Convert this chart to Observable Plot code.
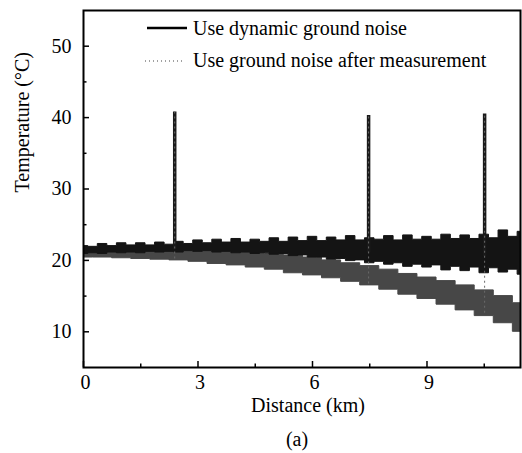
<!DOCTYPE html>
<html><head><meta charset="utf-8">
<script src="https://cdn.jsdelivr.net/npm/d3@7"></script>
<script src="https://cdn.jsdelivr.net/npm/@observablehq/plot@0.6"></script>
<style>
body{margin:0;background:#fff;}
#wrap{width:522px;height:453px;}
</style></head><body><div id="wrap"></div>
<script>
// Dynamic ground noise: envelope of the noisy trace (km, °C)
const blackDist = [0,0.25,0.5,0.75,1,1.25,1.5,1.75,2,2.25,2.5,2.75,3,3.25,3.5,3.75,4,4.25,4.5,4.75,5,5.25,5.5,5.75,6,6.25,6.5,6.75,7,7.25,7.5,7.75,8,8.25,8.5,8.75,9,9.25,9.5,9.75,10,10.25,10.5,10.75,11,11.25,11.5];
const blackUpper = [22.0,21.9,22.3,22.0,22.4,22.1,22.4,22.1,22.5,22.2,22.6,22.3,22.8,22.4,22.9,22.5,23.0,22.5,22.9,22.6,23.1,22.6,23.2,22.7,23.3,22.7,23.2,22.8,23.4,22.8,23.1,22.9,23.4,22.8,23.5,22.9,23.3,22.9,23.6,23.0,23.5,23.0,23.6,23.1,24.2,23.3,24.0];
const blackLower = [20.9,21.0,20.9,21.1,21.0,21.1,21.0,21.2,21.1,21.2,21.1,21.3,21.2,21.3,21.1,21.2,21.0,21.1,20.9,21.0,20.8,20.9,20.6,20.7,20.4,20.4,20.1,20.2,19.9,20.0,19.6,19.8,19.4,19.6,19.1,19.4,19.0,19.3,18.6,19.1,18.5,19.0,18.2,18.9,18.3,18.7,18.0];

// Ground noise after measurement: envelope of the noisy trace
const grayDist = [0,0.5,1,1.5,2,2.5,3,3.5,4,4.5,5,5.5,6,6.5,7,7.5,8,8.5,9,9.5,10,10.5,11,11.5];
const grayUpper = [21.6,21.6,21.7,21.7,21.7,21.7,21.6,21.5,21.3,21.1,20.9,20.7,20.4,20.0,19.6,19.2,18.7,18.1,17.6,17.1,16.5,15.8,15.0,14.0];
const grayLower = [20.4,20.4,20.3,20.2,20.1,20.0,19.8,19.5,19.3,19.0,18.7,18.2,17.9,17.5,17.0,16.5,15.9,15.2,14.6,13.8,13.0,12.2,11.2,10.0];

// Hot spots
const spikeDist = [2.39, 7.47, 10.51];
const spikeTop = [40.8, 40.3, 40.5];
const spikeBlackBase = [21.5, 21.0, 20.5];
const spikeGrayBase = [20.2, 16.7, 12.6];

const yTicks = [10,20,30,40,50];
const yMinor = [15,25,35,45];
const xTicks = [0,3,6,9];
const xMinor = [1.5,4.5,7.5,10.5];

const legendLabels = ["Use dynamic ground noise", "Use ground noise after measurement"];

const blackRows = blackDist.map((d,i)=>({d, lo:blackLower[i], hi:blackUpper[i]}));
const grayRows = grayDist.map((d,i)=>({d, lo:grayLower[i], hi:grayUpper[i]}));
const spikes = spikeDist.map((d,i)=>({d, top:spikeTop[i], b:spikeBlackBase[i], g:spikeGrayBase[i]}));

const W = 522, H = 453, mL = 83, mR = 2, mT = 10, mB = 86;
const fw = W - mL - mR, fh = H - mT - mB;
const font = '"Liberation Serif", "Times New Roman", Times, serif';

const chart = Plot.plot({
  width: W, height: H,
  marginLeft: mL, marginRight: mR, marginTop: mT, marginBottom: mB,
  x: {domain: [0, 11.45]},
  y: {domain: [5, 55]},
  style: {fontFamily: font, fontSize: "20px", color: "black", background: "white"},
  marks: [
    Plot.areaY(grayRows, {x: "d", y1: "lo", y2: "hi", fill: "#474747", stroke: "#474747", strokeWidth: 1, curve: "step", clip: true}),
    Plot.areaY(blackRows, {x: "d", y1: "lo", y2: "hi", fill: "#141414", stroke: "#141414", strokeWidth: 1, curve: "step", clip: true}),
    Plot.ruleX(spikes, {x: "d", y1: "b", y2: "top", stroke: "#1a1a1a", strokeWidth: 3.5}),
    Plot.ruleX(spikes, {x: "d", y1: "g", y2: "top", stroke: "#6a6a6a", strokeWidth: 1, strokeDasharray: "2,3"}),
    Plot.tickY(yTicks, {y: d => d, insetRight: fw - 6, stroke: "black", strokeWidth: 1.5}),
    Plot.tickY(yMinor, {y: d => d, insetRight: fw - 3.5, stroke: "black", strokeWidth: 1.5}),
    Plot.tickX(xTicks, {x: d => d, insetTop: fh - 6, stroke: "black", strokeWidth: 1.5}),
    Plot.tickX(xMinor, {x: d => d, insetTop: fh - 3.5, stroke: "black", strokeWidth: 1.5}),
    Plot.axisY({ticks: yTicks, tickSize: 0, tickPadding: 12, fontSize: 20, label: null}),
    Plot.axisX({ticks: xTicks, tickSize: 0, tickPadding: 7, fontSize: 20, label: null, dx: 2}),
    Plot.frame({stroke: "black", strokeWidth: 2}),
    Plot.text(["Distance (km)"], {text: d => d, frameAnchor: "bottom", dy: 38, dx: 6, fontSize: 20, lineAnchor: "middle"}),
    Plot.text(["(a)"], {text: d => d, frameAnchor: "bottom", dy: 72, dx: -5, fontSize: 20, lineAnchor: "middle"}),
    Plot.text(["Temperature (°C)"], {text: d => d, frameAnchor: "left", rotate: -90, dx: -61, dy: 3.5, fontSize: 20, lineAnchor: "middle"})
  ]
});

// Legend (inside the plot, top)
const svg = d3.select(chart);
const lg = svg.append("g").style("font-family", font).attr("font-size", 20).attr("fill", "black").attr("text-anchor", "start");
lg.append("line").attr("x1", 147).attr("x2", 187).attr("y1", 28).attr("y2", 28).attr("stroke", "black").attr("stroke-width", 2.5);
lg.append("text").attr("x", 193).attr("y", 35).attr("text-anchor", "start").text(legendLabels[0]);
lg.append("line").attr("x1", 145).attr("x2", 184).attr("y1", 61).attr("y2", 61).attr("stroke", "#444").attr("stroke-width", 1.2).attr("stroke-dasharray", "1,3");
lg.append("text").attr("x", 193).attr("y", 66.7).attr("text-anchor", "start").text(legendLabels[1]);

document.getElementById("wrap").appendChild(chart);
</script></body></html>
